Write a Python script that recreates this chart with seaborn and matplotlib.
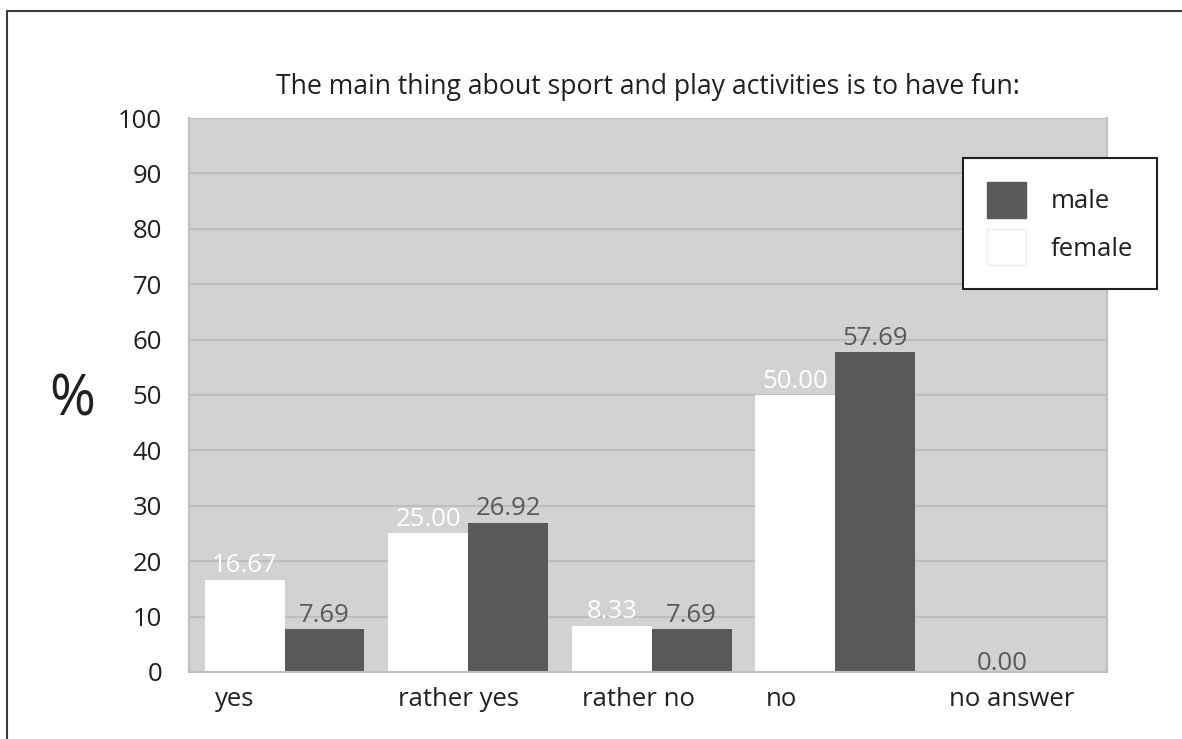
import matplotlib
matplotlib.use("Agg")
import matplotlib.pyplot as plt
from matplotlib.patches import Patch, Rectangle
import pandas as pd
import seaborn as sns

# survey answers, percent per gender
answers = ["yes", "rather yes", "rather no", "no", "no answer"]
female = [16.67, 25.00, 8.33, 50.00, 0.00]
male = [7.69, 26.92, 7.69, 57.69, 0.00]
yticks = [0, 10, 20, 30, 40, 50, 60, 70, 80, 90, 100]
title = "The main thing about sport and play activities is to have fun:"

BG = "#d1d2d4"
GRID = "#bcbec0"
DARK = "#58595b"
TEXT = "#231f20"
FS = 18.5


def get_df() -> pd.DataFrame:
    df = pd.DataFrame({"answer": answers * 2,
                       "percent": female + male,
                       "sex": ["female"] * len(answers) + ["male"] * len(answers)})
    return df


def main() -> None:
    sns.set_style("white")
    plt.rcParams["font.family"] = ["Open Sans", "DejaVu Sans"]
    plt.rcParams["text.color"] = TEXT

    fig = plt.figure(figsize=(11.82, 7.39), dpi=100)
    ax = fig.add_axes([0.160, 0.0907, 0.7766, 0.7496])
    ax.set_facecolor(BG)

    df = get_df()
    sns.barplot(data=df, x="answer", y="percent", hue="sex", order=answers,
                hue_order=["female", "male"],
                palette={"female": "white", "male": DARK},
                saturation=1, width=0.87, linewidth=0, legend=False, ax=ax)
    # bars sit a touch right of centre in the original
    for p in ax.patches:
        p.set_x(p.get_x() + 0.02)

    ax.set_xlim(-0.5, len(answers) - 0.5)
    ax.set_ylim(0, 100)
    ax.set_yticks(yticks)
    ax.yaxis.grid(True, color=GRID, linewidth=1.5)
    ax.set_axisbelow(True)
    ax.tick_params(axis="y", length=7.5, width=1.5, color=GRID, pad=12,
                   labelsize=FS, labelcolor=TEXT)

    # category boundaries as ticks, labels left aligned inside each category
    ax.set_xticks([i - 0.5 for i in range(len(answers) + 1)])
    ax.set_xticklabels([])
    ax.set_xticks([i - 0.5 + 0.14 for i in range(len(answers))], minor=True)
    ax.set_xticklabels(answers, minor=True, ha="left")
    ax.tick_params(axis="x", which="major", length=11, width=1.5, color=GRID)
    ax.tick_params(axis="x", which="minor", length=0, pad=11, labelsize=FS,
                   labelcolor=TEXT)
    ax.set_xlabel("")

    for side in ["left", "right", "bottom"]:
        ax.spines[side].set_color(GRID)
        ax.spines[side].set_linewidth(1.5)
    ax.spines["top"].set_visible(False)

    ax.set_ylabel("%", rotation=0, fontsize=40, color=TEXT, va="center")
    ax.yaxis.set_label_coords(-0.127, 0.49)

    # value labels
    female_bars, male_bars = ax.containers[0], ax.containers[1]
    ax.bar_label(female_bars, labels=[f"{v:.2f}" if v > 0 else "" for v in female],
                 color="white", fontsize=FS, padding=1)
    ax.bar_label(male_bars, labels=[f"{v:.2f}" if v > 0 else "" for v in male],
                 color=DARK, fontsize=FS, padding=1)
    for i, v in enumerate(male):
        if v == 0:
            ax.text(i - 0.07, v + 0.3, f"{v:.2f}", ha="center", va="baseline",
                    color=DARK, fontsize=FS)

    ax.set_title(title, fontsize=19.2, color=TEXT, pad=17)

    handles = [Patch(facecolor=DARK, edgecolor=DARK, label="male"),
               Patch(facecolor="white", edgecolor="#eeeeee", label="female")]
    leg = fig.legend(handles=handles, loc="upper left",
                     bbox_to_anchor=(963 / 1182, 1 - 158 / 739),
                     fontsize=FS, frameon=True, fancybox=False,
                     handlelength=1.5, handleheight=1.75, handletextpad=0.95,
                     labelspacing=0.45, borderpad=0.95, borderaxespad=0)
    leg.get_frame().set_edgecolor(TEXT)
    leg.get_frame().set_linewidth(1.5)
    leg.get_frame().set_alpha(1)

    # outer border (bottom/right edges fall outside the picture)
    fig.patches.append(Rectangle((7 / 1182, -0.2), 1.2, 1.2 - 11 / 739,
                                 transform=fig.transFigure, fill=False,
                                 edgecolor="#3c3c3c", linewidth=1.5))

    fig.savefig("out.png", dpi=100, facecolor="white")


if __name__ == "__main__":
    main()
